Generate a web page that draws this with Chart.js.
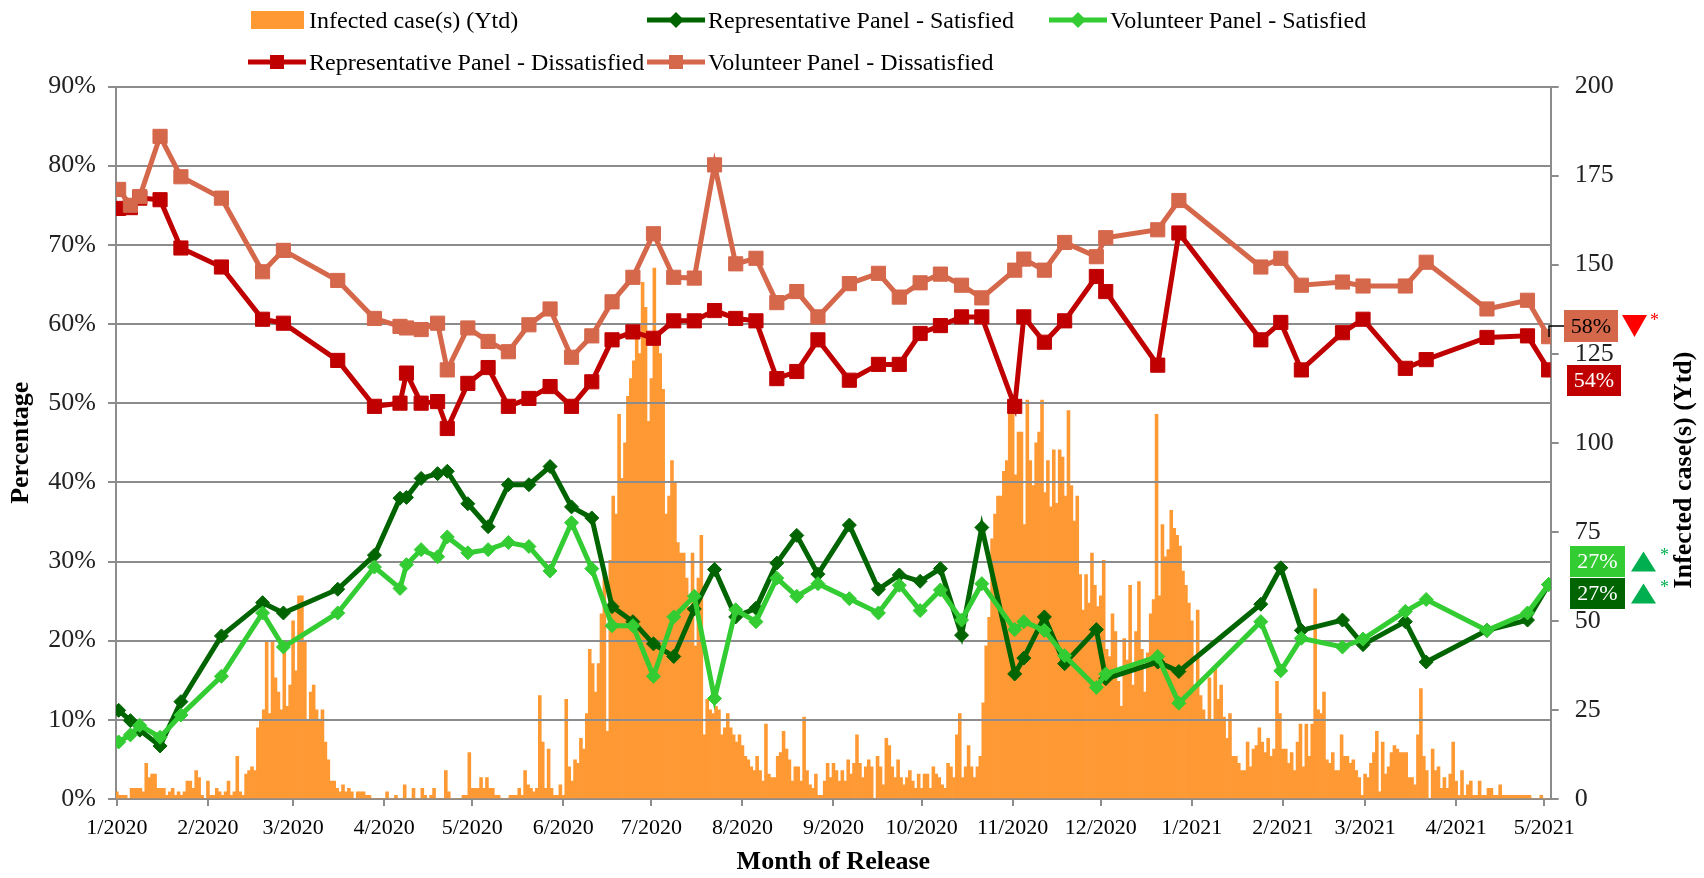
<!DOCTYPE html>
<html>
<head>
<meta charset="utf-8">
<script src="https://cdn.jsdelivr.net/npm/chart.js@4.4.1/dist/chart.umd.min.js"></script>
<style>
html,body{margin:0;padding:0;background:#fff;}
#wrap{position:relative;width:1704px;height:878px;overflow:hidden;}
#c{position:absolute;left:0;top:0;}
#legend{position:absolute;left:0;top:0;width:1704px;height:84px;font-family:"Liberation Serif","Times New Roman",serif;font-size:24px;color:#000;}
.item{position:absolute;display:flex;align-items:center;height:28px;white-space:nowrap;}
.item svg{margin-right:3px;}
</style>
</head>
<body>
<div id="wrap">
<canvas id="c" width="1704" height="878"></canvas>
<div id="legend"></div>
</div>
<script>
// ---------------- DATA ----------------
const seriesNames = [
  "Infected case(s) (Ytd)",
  "Representative Panel - Satisfied",
  "Volunteer Panel - Satisfied",
  "Representative Panel - Dissatisfied",
  "Volunteer Panel - Dissatisfied"
];
const xTitle = "Month of Release";
const yTitle = "Percentage";
const y2Title = "Infected case(s) (Ytd)";

// month tick positions (days since 1 Jan 2020) and labels
const monthTickDays = [0,31,60,91,121,152,182,213,244,274,305,335,366,397,425,456,486];
const monthLabels = ["1/2020","2/2020","3/2020","4/2020","5/2020","6/2020","7/2020","8/2020","9/2020","10/2020","11/2020","12/2020","1/2021","2/2021","3/2021","4/2021","5/2021"];

// survey release days (days since 1 Jan 2020)
const surveyDays = [0.6,4.6,7.8,14.7,21.8,35.6,49.6,56.7,75.2,87.7,96.4,98.6,103.6,109.2,112.5,119.5,126.4,133.3,140.3,147.5,154.8,161.7,168.6,175.7,182.7,189.6,196.6,203.5,210.7,217.6,224.7,231.5,238.7,249.4,259.3,266.4,273.5,280.4,287.6,294.5,305.7,308.8,315.8,322.7,333.5,336.7,354.4,361.6,389.5,396.3,403.3,417.3,424.3,438.7,445.8,466.5,480.3,487.5];

const repSatisfied = [11.2,9.9,8.7,6.7,12.3,20.6,24.8,23.5,26.5,30.8,38.0,38.1,40.5,41.1,41.4,37.3,34.4,39.7,39.7,42.0,36.9,35.5,24.3,22.4,19.6,18.0,24.0,29.0,23.0,24.1,29.8,33.3,28.4,34.6,26.5,28.3,27.5,29.1,20.7,34.3,15.8,17.8,23.0,17.1,21.4,15.2,17.3,16.1,24.6,29.2,21.3,22.6,19.5,22.4,17.3,21.3,22.6,27.1];
const volSatisfied = [7.2,8.1,9.3,7.8,10.6,15.5,23.5,19.2,23.5,29.3,26.6,29.6,31.5,30.6,33.1,31.1,31.5,32.4,31.9,28.8,34.9,29.1,21.9,21.9,15.5,23.0,25.6,12.7,23.9,22.4,27.9,25.6,27.2,25.3,23.5,27.0,23.8,26.4,22.6,27.2,21.4,22.4,21.3,18.1,14.1,15.8,18.0,12.1,22.4,16.2,20.3,19.2,20.2,23.7,25.2,21.3,23.5,27.1];
const repDissatisfied = [74.6,74.7,75.9,75.7,69.6,67.2,60.6,60.1,55.4,49.6,50.0,53.8,50.0,50.2,46.8,52.5,54.5,49.6,50.6,52.1,49.6,52.7,58.0,59.0,58.2,60.4,60.4,61.7,60.7,60.4,53.1,54.0,58.0,52.9,54.9,54.9,58.8,59.8,60.9,60.9,49.6,60.9,57.7,60.4,66.0,64.1,54.8,71.5,58.0,60.2,54.2,58.9,60.6,54.4,55.5,58.3,58.5,54.2];
const volDissatisfied = [77.0,75.0,76.1,83.7,78.6,75.9,66.6,69.3,65.5,60.7,59.7,59.5,59.3,60.1,54.2,59.5,57.8,56.5,59.9,61.9,55.8,58.5,62.8,65.9,71.4,65.9,65.8,80.1,67.6,68.3,62.7,64.1,60.9,65.1,66.4,63.4,65.2,66.3,64.9,63.3,66.8,68.2,66.8,70.3,68.5,70.9,71.9,75.6,67.2,68.3,64.9,65.3,64.8,64.8,67.8,61.9,63.0,58.4];

// daily infected cases, one value per day from 1 Jan 2020
const dailyCases = [
2,1,1,1,0,3,3,3,3,2,
10,6,7,7,3,3,3,1,2,3,
1,2,1,2,5,5,3,8,6,1,
0,5,1,1,3,2,1,2,5,1,
2,12,2,1,7,8,9,8,20,22,
25,44,24,44,34,30,25,44,26,32,
50,36,57,57,44,22,30,32,25,22,
25,16,11,5,5,3,2,4,2,3,
2,0,2,2,2,1,1,0,0,0,
0,0,2,0,0,1,0,0,4,0,
0,3,0,0,3,1,0,1,3,0,
0,0,8,2,0,0,0,0,1,1,
13,3,3,3,6,3,6,3,3,1,
1,0,0,0,1,1,1,3,1,8,
4,3,2,3,29,16,3,14,3,1,
1,4,1,28,9,5,11,10,17,14,
24,42,38,30,38,52,64,19,67,85,
80,108,90,100,113,118,123,131,125,145,
138,106,118,149,131,125,115,80,85,95,
89,72,69,69,62,54,69,43,62,74,
18,28,25,24,26,25,18,20,24,20,
18,16,18,15,12,11,9,8,12,8,
5,21,7,6,6,12,13,19,14,11,
5,9,9,5,23,8,4,3,7,1,
1,5,10,6,10,8,5,8,5,11,
7,10,18,10,6,9,11,9,0,12,
9,4,17,15,9,6,11,6,4,6,
8,5,3,7,3,7,7,3,9,7,
6,4,3,10,9,6,18,24,6,9,
15,9,6,9,12,27,43,51,73,80,
85,85,92,95,111,110,91,103,103,77,
112,95,88,100,103,112,86,95,82,98,
83,98,96,85,109,88,78,85,63,53,
63,55,69,60,54,57,67,42,40,52,
47,33,26,45,39,60,32,47,61,42,
30,41,52,56,108,57,77,68,70,81,
76,74,71,64,60,55,50,32,53,29,
25,22,34,22,37,28,32,23,17,24,
12,12,10,8,8,16,9,14,15,20,
16,13,17,12,14,33,24,14,14,10,
13,8,16,21,9,21,12,21,59,25,
24,30,11,10,13,8,8,18,12,12,
10,11,8,6,1,7,6,10,13,19,
2,16,7,9,13,15,14,13,13,13,
6,6,4,18,31,12,8,0,14,8,
9,3,6,3,7,16,5,1,8,1,
4,5,1,1,5,1,1,3,3,1,
1,4,1,1,1,1,1,1,1,1,
1,1,0,0,0,1,0,0
];

// ---------------- STYLE ----------------
const FONT = "'Liberation Serif','Times New Roman',serif";
const GRID = '#8c8c8c';
const C_BAR = '#FF9933', C_RS = '#006400', C_VS = '#33CC33', C_RD = '#C00000', C_VD = '#D5674B';

function pts(vals){ return surveyDays.map((d,i)=>({x:d, y:vals[i]})); }
function lineDs(label, vals, color, style, radius, order){
  return {type:'line', label, data:pts(vals), yAxisID:'y', borderColor:color, backgroundColor:color,
    pointBackgroundColor:color, pointBorderColor:color, pointStyle:style, pointRadius:radius,
    pointBorderWidth:1, borderWidth:5, tension:0, order};
}

const extras = {
  id:'extras',
  afterDatasetDraw(chart, args){
    if (args.index !== 0) return;
    const ys = chart.scales.y, a = chart.chartArea, c = chart.ctx;
    c.save(); c.strokeStyle = GRID; c.lineWidth = 2;
    ys.ticks.forEach(t=>{
      if (t.value === 0) return;
      const py = Math.round(ys.getPixelForValue(t.value));
      c.beginPath(); c.moveTo(a.left, py); c.lineTo(a.right, py); c.stroke();
    });
    c.restore();
  },
  afterDraw(chart){
    const c = chart.ctx;
    // right axis title
    c.save();
    c.translate(1684, 470); c.rotate(-Math.PI/2);
    c.font = 'bold 26px ' + FONT; c.fillStyle = '#000';
    c.textAlign = 'center'; c.textBaseline = 'middle';
    c.fillText(y2Title, 0, 0);
    c.restore();

    const last = a => a[a.length-1];
    const boxes = [
      {v:last(volDissatisfied), x:1564, y:310, w:54, h:32, fill:C_VD, txt:'#000', tri:'down', tc:'#FF0000'},
      {v:last(repDissatisfied), x:1567, y:365, w:54, h:31, fill:C_RD, txt:'#fff', tri:null},
      {v:last(volSatisfied), x:1570, y:546, w:55, h:31, fill:C_VS, txt:'#fff', tri:'up', tc:'#00B050'},
      {v:last(repSatisfied), x:1570, y:578, w:55, h:31, fill:C_RS, txt:'#fff', tri:'up', tc:'#00B050'}
    ];
    // leader line for the first box
    c.save(); c.strokeStyle = '#000'; c.lineWidth = 1.5;
    c.beginPath(); c.moveTo(1549, 337); c.lineTo(1549, 326); c.lineTo(1564, 326); c.stroke(); c.restore();
    boxes.forEach(b=>{
      c.save();
      c.fillStyle = b.fill; c.fillRect(b.x, b.y, b.w, b.h);
      c.font = '22px ' + FONT; c.fillStyle = b.txt; c.textAlign = 'center'; c.textBaseline = 'middle';
      c.fillText(Math.round(b.v) + '%', b.x + b.w/2, b.y + b.h/2 + 1);
      if (b.tri){
        const tx = b.x + b.w + 4, cy = b.y + b.h/2;
        c.fillStyle = b.tc; c.beginPath();
        if (b.tri === 'down'){ c.moveTo(tx, cy-11); c.lineTo(tx+25, cy-11); c.lineTo(tx+12.5, cy+11); }
        else { c.moveTo(tx+2, cy+10); c.lineTo(tx+27, cy+10); c.lineTo(tx+14.5, cy-10); }
        c.closePath(); c.fill();
        c.font = '18px ' + FONT; c.textAlign = 'left';
        c.fillText('*', tx + (b.tri==='down'?28:31), cy - 5);
      }
      c.restore();
    });
  }
};

const chart = new Chart(document.getElementById('c'), {
  type:'bar',
  data:{
    datasets:[
      {type:'bar', label:seriesNames[0], data:dailyCases.map((v,i)=>({x:i, y:v})), yAxisID:'y2',
       backgroundColor:C_BAR, borderWidth:0, barPercentage:1, categoryPercentage:1, order:10},
      lineDs(seriesNames[1], repSatisfied, C_RS, 'rectRot', 7, 4),
      lineDs(seriesNames[2], volSatisfied, C_VS, 'rectRot', 7, 3),
      lineDs(seriesNames[3], repDissatisfied, C_RD, 'rect', 10, 2),
      lineDs(seriesNames[4], volDissatisfied, C_VD, 'rect', 10, 1)
    ]
  },
  options:{
    responsive:false, animation:false, devicePixelRatio:1,
    layout:{padding:{top:86.5, left:0, right:0, bottom:0}},
    plugins:{legend:{display:false}, tooltip:{enabled:false}},
    scales:{
      x:{type:'linear', position:'bottom', min:-0.3, max:488.2, offset:false,
        afterFit(s){ s.height = 79; },
        afterBuildTicks(s){ s.ticks = monthTickDays.map(v=>({value:v})); },
        ticks:{autoSkip:false, maxRotation:0, padding:9, color:'#000', font:{family:FONT, size:22},
          callback:(v)=>monthLabels[monthTickDays.indexOf(v)]},
        grid:{display:true, drawOnChartArea:false, drawTicks:true, tickLength:7, color:GRID, lineWidth:2, offset:false},
        border:{display:true, color:GRID, width:2},
        title:{display:true, text:xTitle, color:'#000', font:{family:FONT, size:26, weight:'bold'}, padding:{top:0, bottom:0}}
      },
      y:{type:'linear', position:'left', min:0, max:90,
        afterFit(s){ s.width = 116; },
        ticks:{stepSize:10, padding:12, color:'#222', font:{family:FONT, size:26}, callback:v=>v+'%'},
        grid:{color:GRID, lineWidth:2, drawTicks:true, tickLength:8},
        border:{display:true, color:GRID, width:2},
        title:{display:true, text:yTitle, color:'#000', font:{family:FONT, size:26, weight:'bold'}, padding:{top:6, bottom:0}}
      },
      y2:{type:'linear', position:'right', min:0, max:200,
        afterFit(s){ s.width = 153.3; },
        ticks:{stepSize:25, padding:16, color:'#222', font:{family:FONT, size:26}},
        grid:{drawOnChartArea:false, drawTicks:true, tickLength:8, color:GRID, lineWidth:2},
        border:{display:true, color:GRID, width:2},
        title:{display:false, text:y2Title}
      }
    }
  },
  plugins:[extras]
});

// ---------------- HTML LEGEND ----------------
(function(){
  const lg = document.getElementById('legend');
  const ds = chart.data.datasets;
  const layout = [ {i:0, x:250, y:6}, {i:1, x:647, y:6}, {i:2, x:1049, y:6}, {i:3, x:248, y:48}, {i:4, x:647, y:48} ];
  layout.forEach(L=>{
    const d = ds[L.i];
    const col = d.type === 'bar' ? d.backgroundColor : d.borderColor;
    let svg;
    if (d.type === 'bar'){
      svg = `<svg width="56" height="28"><rect x="1" y="5" width="53" height="18" fill="${col}"/></svg>`;
    } else if (d.pointStyle === 'rect'){
      svg = `<svg width="58" height="28"><line x1="0" y1="14" x2="58" y2="14" stroke="${col}" stroke-width="5"/><rect x="22" y="7" width="14" height="14" fill="${col}"/></svg>`;
    } else {
      svg = `<svg width="58" height="28"><line x1="0" y1="14" x2="58" y2="14" stroke="${col}" stroke-width="5"/><polygon points="29,6 37,14 29,22 21,14" fill="${col}"/></svg>`;
    }
    const el = document.createElement('div');
    el.className = 'item';
    el.style.left = L.x + 'px'; el.style.top = L.y + 'px';
    el.innerHTML = svg + '<span>' + d.label + '</span>';
    lg.appendChild(el);
  });
})();
</script>
</body>
</html>
